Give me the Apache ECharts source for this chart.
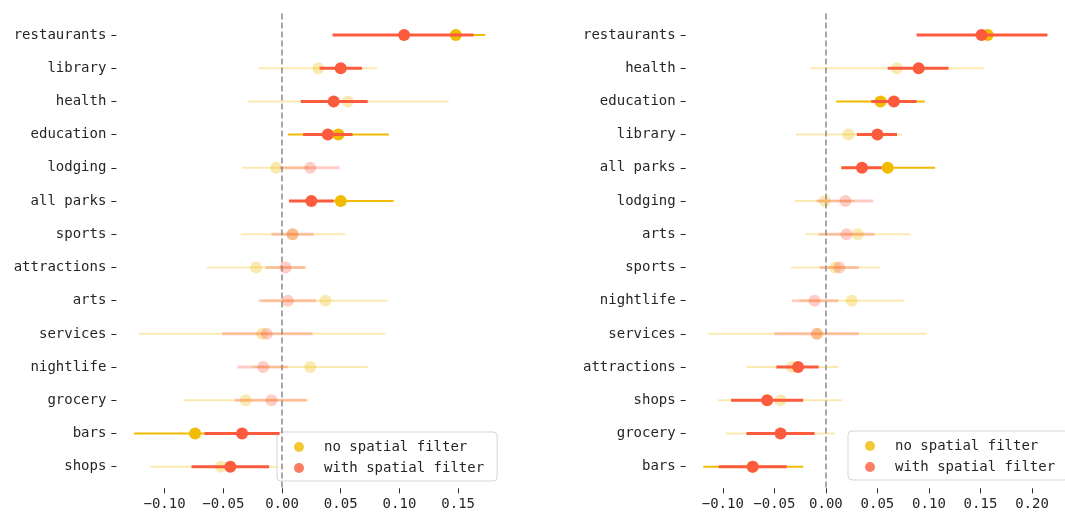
<!DOCTYPE html>
<html>
<head>
    <meta charset="utf-8">
    <title>spatial filter</title>
    <script src="https://cdn.jsdelivr.net/npm/echarts@6.0.0/dist/echarts.min.js"></script>
    <style>
        html, body { margin: 0; padding: 0; background: #fff; }
        #chart { width: 1065px; height: 512px; }
    </style>
</head>
<body>
<div id="chart"></div>
<script>
    // left panel
    var catsLeft = ['restaurants', 'library', 'health', 'education', 'lodging', 'all parks', 'sports',
        'attractions', 'arts', 'services', 'nightlife', 'grocery', 'bars', 'shops'];
    var noValLeft = [0.148, 0.031, 0.056, 0.048, -0.005, 0.050, 0.009, -0.022, 0.037, -0.017, 0.024, -0.031, -0.074, -0.052];
    var noLoLeft  = [0.122, -0.020, -0.029, 0.005, -0.034, 0.006, -0.035, -0.064, -0.017, -0.122, -0.025, -0.084, -0.126, -0.112];
    var noHiLeft  = [0.173, 0.081, 0.142, 0.091, 0.023, 0.095, 0.054, 0.020, 0.090, 0.088, 0.073, 0.022, -0.022, 0.007];
    var wValLeft  = [0.104, 0.050, 0.044, 0.039, 0.024, 0.025, 0.009, 0.003, 0.005, -0.013, -0.016, -0.009, -0.034, -0.044];
    var wLoLeft   = [0.043, 0.032, 0.016, 0.018, -0.002, 0.006, -0.009, -0.014, -0.020, -0.051, -0.038, -0.040, -0.066, -0.077];
    var wHiLeft   = [0.163, 0.068, 0.073, 0.060, 0.049, 0.044, 0.027, 0.020, 0.029, 0.026, 0.005, 0.021, -0.002, -0.011];

    // right panel
    var catsRight = ['restaurants', 'health', 'education', 'library', 'all parks', 'lodging', 'arts',
        'sports', 'nightlife', 'services', 'attractions', 'shops', 'grocery', 'bars'];
    var noValRight = [0.157, 0.069, 0.053, 0.022, 0.060, -0.001, 0.031, 0.009, 0.025, -0.008, -0.033, -0.044, -0.044, -0.071];
    var noLoRight  = [0.105, -0.015, 0.010, -0.029, 0.015, -0.030, -0.020, -0.034, -0.026, -0.114, -0.077, -0.105, -0.097, -0.119];
    var noHiRight  = [0.209, 0.153, 0.096, 0.074, 0.106, 0.028, 0.082, 0.053, 0.076, 0.098, 0.012, 0.016, 0.009, -0.022];
    var wValRight  = [0.151, 0.090, 0.066, 0.050, 0.035, 0.019, 0.020, 0.013, -0.011, -0.009, -0.027, -0.057, -0.044, -0.071];
    var wLoRight   = [0.088, 0.060, 0.044, 0.030, 0.015, -0.009, -0.007, -0.006, -0.033, -0.050, -0.048, -0.092, -0.077, -0.104];
    var wHiRight   = [0.215, 0.119, 0.088, 0.069, 0.054, 0.046, 0.047, 0.032, 0.012, 0.032, -0.007, -0.022, -0.011, -0.038];

    var xTicksLeft = [-0.10, -0.05, 0.00, 0.05, 0.10, 0.15];
    var xTicksRight = [-0.10, -0.05, 0.00, 0.05, 0.10, 0.15, 0.20];

    var YELLOW = '#f0bb00';
    var RED = '#fc5b3d';
    var FADE = 0.3;
    var FONT = 'DejaVu Sans Mono';
    var TXT = '#262626';

    function faded(lo, hi) {
        return lo < 0 && hi > 0;
    }

    function barSeries(name, idx, lo, hi, color, width, z) {
        return {
            type: 'custom',
            name: name,
            xAxisIndex: idx,
            yAxisIndex: idx,
            z: z,
            silent: true,
            encode: {x: [0, 1], y: 2},
            data: lo.map(function (v, i) { return [v, hi[i], i]; }),
            renderItem: function (params, api) {
                var a = api.coord([api.value(0), api.value(2)]);
                var b = api.coord([api.value(1), api.value(2)]);
                return {
                    type: 'line',
                    shape: {x1: a[0], y1: a[1], x2: b[0], y2: b[1]},
                    style: {
                        stroke: color,
                        lineWidth: width,
                        opacity: faded(api.value(0), api.value(1)) ? FADE : 1
                    }
                };
            }
        };
    }

    function dotSeries(name, idx, val, lo, hi, color, z) {
        return {
            type: 'scatter',
            name: name,
            xAxisIndex: idx,
            yAxisIndex: idx,
            z: z,
            symbolSize: 12,
            itemStyle: {color: color},
            data: val.map(function (v, i) {
                return {value: [v, i], itemStyle: {opacity: faded(lo[i], hi[i]) ? FADE : 1}};
            })
        };
    }

    function xAxisFor(idx, min, max, ticks) {
        return {
            type: 'value',
            gridIndex: idx,
            min: min,
            max: max,
            splitLine: {show: false},
            axisLine: {show: false, onZero: false},
            axisTick: {show: true, length: 5, customValues: ticks, lineStyle: {color: TXT}},
            axisLabel: {
                customValues: ticks,
                margin: 9,
                fontFamily: FONT,
                fontSize: 14,
                color: TXT,
                formatter: function (v) { return (v < 0 ? '\u2212' : '') + Math.abs(v).toFixed(2); }
            }
        };
    }

    function yAxisFor(idx, cats) {
        var pos = cats.map(function (c, i) { return i; });
        return {
            type: 'value',
            gridIndex: idx,
            inverse: true,
            min: -0.65,
            max: 13.65,
            splitLine: {show: false},
            axisLine: {show: false, onZero: false},
            axisTick: {show: true, length: 5, customValues: pos, lineStyle: {color: TXT}},
            axisLabel: {
                customValues: pos,
                margin: 10,
                fontFamily: FONT,
                fontSize: 14,
                color: TXT,
                formatter: function (v) { return cats[Math.round(v)]; }
            }
        };
    }

    function zeroLine(idx) {
        return {
            type: 'scatter',
            xAxisIndex: idx,
            yAxisIndex: idx,
            data: [],
            z: 1,
            markLine: {
                silent: true,
                symbol: 'none',
                label: {show: false},
                lineStyle: {color: '#8a8a8a', type: [6, 3], width: 1.5},
                data: [{xAxis: 0}]
            }
        };
    }

    function legendFor(left, top) {
        return {
            left: left,
            top: top,
            orient: 'vertical',
            data: ['no spatial filter', 'with spatial filter'],
            icon: 'circle',
            itemWidth: 24,
            itemHeight: 10,
            itemGap: 7,
            padding: [8, 13, 6, 17],
            backgroundColor: 'rgba(255,255,255,0.8)',
            borderColor: '#d5d5d5',
            borderWidth: 1,
            borderRadius: 4,
            textStyle: {fontFamily: FONT, fontSize: 14, color: TXT, padding: [0, 0, 0, 8]}
        };
    }

    var myChart = echarts.init(document.getElementById('chart'));

    var option = {
        animation: false,
        backgroundColor: '#fff',
        grid: [
            {left: 116.4, right: 562.2, top: 13.4, bottom: 23.7},
            {left: 685.7, right: -12, top: 13.4, bottom: 23.7}
        ],
        xAxis: [
            xAxisFor(0, -0.141, 0.188, xTicksLeft),
            xAxisFor(1, -0.136, 0.232, xTicksRight)
        ],
        yAxis: [
            yAxisFor(0, catsLeft),
            yAxisFor(1, catsRight)
        ],
        legend: [legendFor(277, 432), legendFor(848, 431)],
        series: [
            zeroLine(0),
            barSeries('ci no left', 0, noLoLeft, noHiLeft, YELLOW, 2, 2),
            dotSeries('no spatial filter', 0, noValLeft, noLoLeft, noHiLeft, YELLOW, 3),
            barSeries('ci with left', 0, wLoLeft, wHiLeft, RED, 3, 4),
            dotSeries('with spatial filter', 0, wValLeft, wLoLeft, wHiLeft, RED, 5),
            zeroLine(1),
            barSeries('ci no right', 1, noLoRight, noHiRight, YELLOW, 2, 2),
            dotSeries('no spatial filter', 1, noValRight, noLoRight, noHiRight, YELLOW, 3),
            barSeries('ci with right', 1, wLoRight, wHiRight, RED, 3, 4),
            dotSeries('with spatial filter', 1, wValRight, wLoRight, wHiRight, RED, 5)
        ]
    };
    myChart.setOption(option);
</script>
</body>
</html>
